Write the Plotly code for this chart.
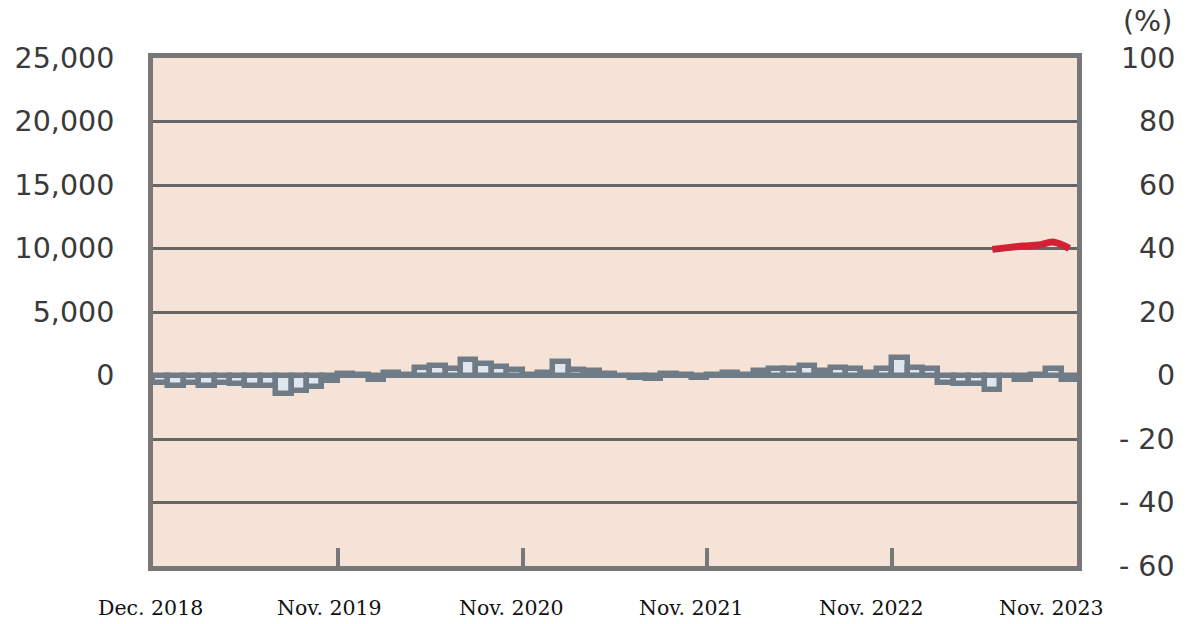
import numpy as np
import pandas as pd
import plotly.graph_objects as go

# Monthly periods, Dec. 2018 .. Nov. 2023
months = pd.date_range("2018-12-01", periods=60, freq="MS").strftime("%b. %Y").tolist()

# Year-on-year change (%), right axis
yoy_pct = [
    -2.4, -3.2, -2.4, -3.2, -2.4, -2.6, -3.4, -3.4, -5.9, -4.9, -3.6, -1.8,
    0.5, 0.1, -1.3, 0.7, 0.1, 2.4, 2.9, 2.0, 5.0, 3.6, 2.6, 1.6,
    0.1, 0.8, 4.4, 1.6, 1.5, 0.4, -0.1, -0.7, -1.1, 0.5, 0.1, -0.7,
    0.1, 0.9, 0.1, 1.3, 2.0, 2.0, 2.9, 1.4, 2.5, 2.0, 0.8, 2.0,
    5.5, 2.3, 1.9, -2.3, -2.8, -2.8, -4.6, -0.1, -1.5, 0.1, 1.9, -1.5,
]

# Level series (left axis), available from Jun. 2023
level_months = months[54:]
level_values = [9930, 10070, 10190, 10270, 10500, 10010]

left_ticks = [0, 5000, 10000, 15000, 20000, 25000]
left_ticktext = ["0", "5,000", "10,000", "15,000", "20,000", "25,000"]
right_ticks = [100, 80, 60, 40, 20, 0, -20, -40, -60]
right_ticktext = ["100", "80", "60", "40", "20", "0", "- 20", "- 40", "- 60"]
year_labels = ["Dec. 2018", "Nov. 2019", "Nov. 2020", "Nov. 2021", "Nov. 2022", "Nov. 2023"]
year_label_px = [150, 330, 512, 692, 872, 1052]

idx = {m: i for i, m in enumerate(months)}
x_bar = [idx[m] for m in months]
x_line = [idx[m] for m in level_months]

W, H = 1190, 624
L, R, T, B = 153, 1077.5, 57.5, 566.5

TICK_FONT = dict(family="DejaVu Sans", size=28.5, color="#3a3a3a")
FRAME = "#777777"
GRID = "#666666"
BAR_EDGE = "#6f7c87"

fig = go.Figure()

fig.add_trace(go.Bar(
    x=x_bar, y=yoy_pct, yaxis="y",
    width=1.0,
    marker=dict(color="#dfe6ee", line=dict(color=BAR_EDGE, width=5.5)),
    showlegend=False,
))

fig.add_trace(go.Scatter(
    x=x_line, y=level_values, yaxis="y2",
    mode="lines", line=dict(color="#d42035", width=7, shape="spline"),
    showlegend=False,
))

fig.update_layout(
    width=W, height=H,
    margin=dict(l=L, r=W - R, t=T, b=H - B, pad=0),
    paper_bgcolor="white",
    plot_bgcolor="#f6e3d8",
    bargap=0,
    xaxis=dict(
        range=[-0.5, 59.5],
        showgrid=False, zeroline=False,
        showline=True, linecolor=FRAME, linewidth=5, mirror=True,
        tickmode="array", tickvals=[11.5, 23.5, 35.5, 47.5],
        ticks="inside", ticklen=18, tickwidth=4, tickcolor=FRAME,
        showticklabels=False,
    ),
    yaxis=dict(
        side="right",
        range=[-60, 100],
        tickmode="array", tickvals=[-40, -20, 0, 20, 40, 60, 80],
        showgrid=True, gridcolor=GRID, gridwidth=2.5,
        zeroline=True, zerolinecolor=BAR_EDGE, zerolinewidth=5,
        showline=True, linecolor=FRAME, linewidth=5, mirror=True,
        showticklabels=False, ticks="",
    ),
    yaxis2=dict(
        side="left", overlaying="y",
        range=[-15000, 25000],
        tickmode="array", tickvals=left_ticks, ticktext=left_ticktext,
        showgrid=False, zeroline=False,
        ticks="outside", ticklen=32, tickcolor="rgba(0,0,0,0)",
        tickfont=TICK_FONT,
    ),
)

annotations = []
# right axis labels, right aligned
for v, t in zip(right_ticks, right_ticktext):
    annotations.append(dict(
        x=(1178 - L) / (R - L), xref="paper", xanchor="right",
        y=v, yref="y", yanchor="middle",
        text=t, showarrow=False, font=TICK_FONT,
    ))
annotations.append(dict(
    x=(1148 - L) / (R - L), xref="paper", xanchor="center",
    y=1 + (T - 21) / (B - T), yref="paper", yanchor="middle",
    text="(%)", showarrow=False, font=TICK_FONT,
))
for px, t in zip(year_label_px, year_labels):
    annotations.append(dict(
        x=(px - L) / (R - L), xref="paper", xanchor="center",
        y=-(609 - B) / (B - T), yref="paper", yanchor="middle",
        text=t, showarrow=False,
        font=dict(family="DejaVu Serif", size=20.5, color="#111111"),
    ))
fig.update_layout(annotations=annotations)

fig.write_html("out.html")
